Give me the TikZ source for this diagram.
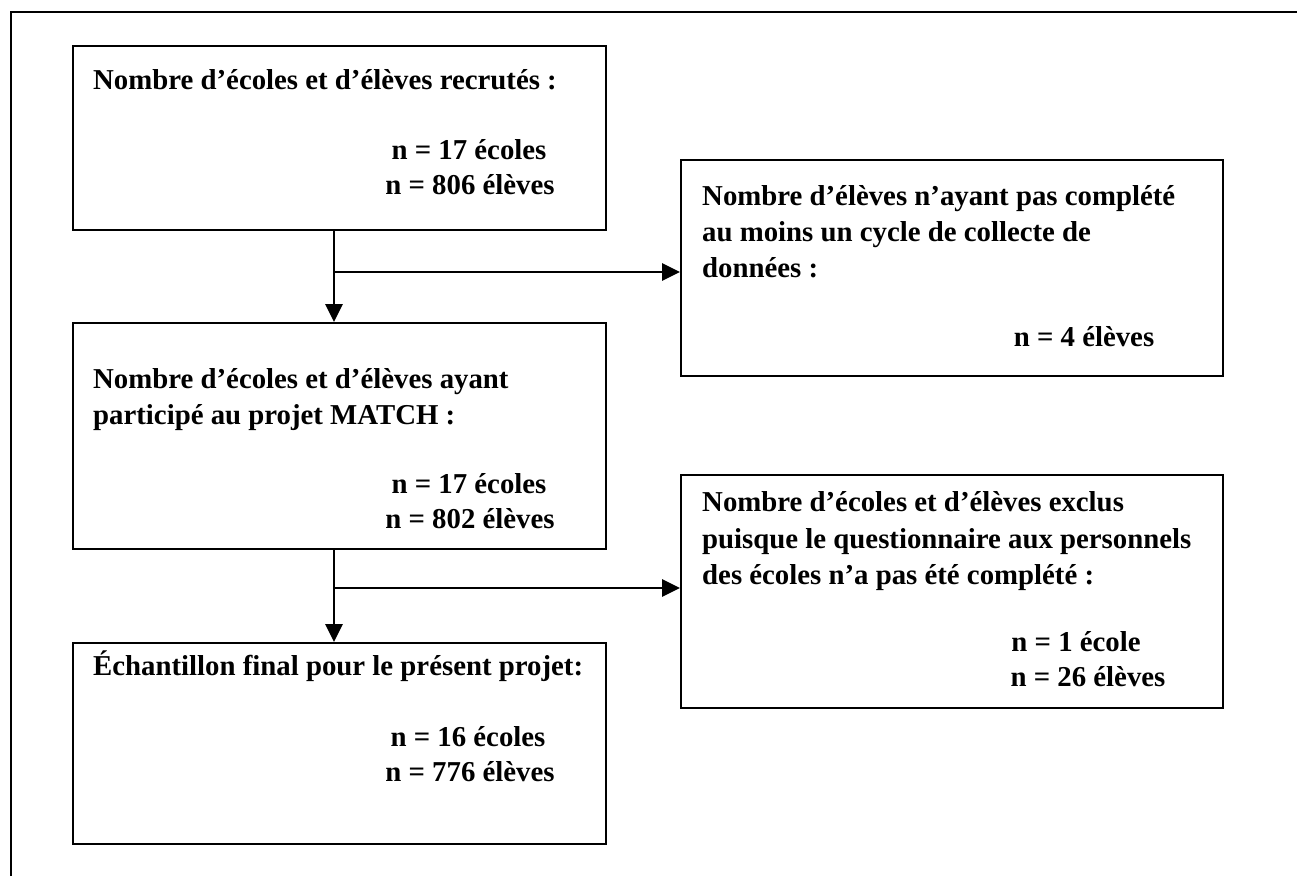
\documentclass[tikz,border=0pt]{standalone}
\usepackage{fontspec}
\setmainfont{Liberation Serif}
\usetikzlibrary{arrows.meta}
\begin{document}
\begin{tikzpicture}[x=1pt,y=-1pt,
  box/.style={draw=black, line width=2.3pt, rectangle, inner sep=0pt, anchor=north west},
  txt/.style={inner sep=0pt, font=\fontsize{28.8}{36}\selectfont\bfseries},
  conn/.style={draw=black, line width=2.8pt, -{Triangle[length=18pt,width=17pt]}}]
\useasboundingbox (0,0) rectangle (1297,876);
% outer frame (cropped)
\draw[line width=2.2pt] (11,876) -- (11,12) -- (1297,12);
% boxes
\node[box, minimum width=533pt, minimum height=184pt] (b1) at (72,45) {};
\node[box, minimum width=542pt, minimum height=216pt] (r1) at (680,159) {};
\node[box, minimum width=533pt, minimum height=226pt] (b2) at (72,322) {};
\node[box, minimum width=542pt, minimum height=233pt] (r2) at (680,474) {};
\node[box, minimum width=533pt, minimum height=201pt] (b3) at (72,642) {};
% texts box 1
\node[txt, anchor=base west] (t1) at (93,89) {Nombre d’écoles et d’élèves recrutés :};
\node[txt, anchor=base] (t1a) at (469,159) {n = 17 écoles};
\node[txt, anchor=base] (t1b) at (470,194) {n = 806 élèves};
% texts right box 1
\node[txt, anchor=base west] (u1) at (702,205) {Nombre d’élèves n’ayant pas complété};
\node[txt, anchor=base west] (u2) at (702,241) {au moins un cycle de collecte de};
\node[txt, anchor=base west] (u3) at (702,277) {données :};
\node[txt, anchor=base] (u4) at (1084,346) {n = 4 élèves};
% texts box 2
\node[txt, anchor=base west] (t2) at (93,388) {Nombre d’écoles et d’élèves ayant};
\node[txt, anchor=base west] (t2b) at (93,424) {participé au projet MATCH :};
\node[txt, anchor=base] (t2c) at (469,493) {n = 17 écoles};
\node[txt, anchor=base] (t2d) at (470,528) {n = 802 élèves};
% texts right box 2
\node[txt, anchor=base west] (v1) at (702,511) {Nombre d’écoles et d’élèves exclus};
\node[txt, anchor=base west] (v2) at (702,548) {puisque le questionnaire aux personnels};
\node[txt, anchor=base west] (v3) at (702,584) {des écoles n’a pas été complété :};
\node[txt, anchor=base] (v4) at (1076,651) {n = 1 école};
\node[txt, anchor=base] (v5) at (1088,686) {n = 26 élèves};
% texts box 3
\node[txt, anchor=base west] (t3) at (93,675) {Échantillon final pour le présent projet:};
\node[txt, anchor=base] (t3a) at (468,746) {n = 16 écoles};
\node[txt, anchor=base] (t3b) at (470,781) {n = 776 élèves};
% connectors
\coordinate (j1) at (334,272);
\coordinate (j2) at (334,588);
\draw[conn] (b1.south -| j1) -- (b2.north -| j1);
\draw[conn] (j1) -- (r1.west |- j1);
\draw[conn] (b2.south -| j2) -- (b3.north -| j2);
\draw[conn] (j2) -- (r2.west |- j2);
\end{tikzpicture}
\end{document}
